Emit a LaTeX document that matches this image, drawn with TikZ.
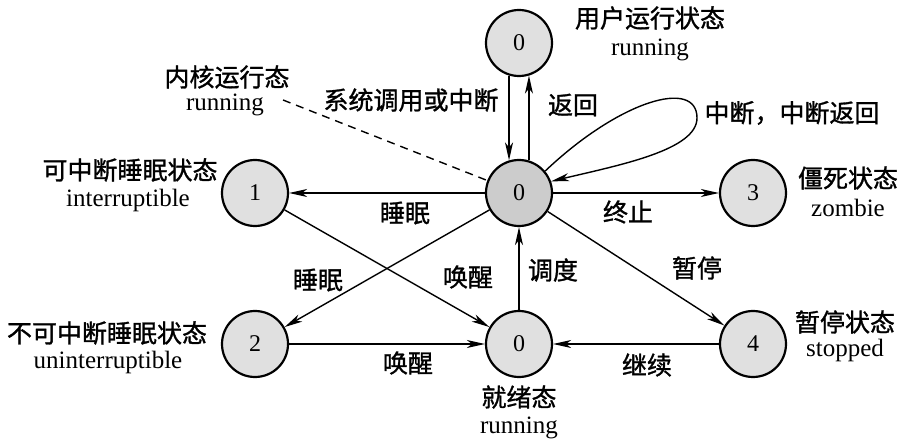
\documentclass[tikz,border=0pt]{standalone}
\usepackage{fontspec}
\setmainfont{Liberation Serif}
\newfontfamily\cjk[FakeBold=1.2]{Noto Sans CJK SC}
\usetikzlibrary{arrows.meta}
\begin{document}
\begin{tikzpicture}[x=0.5pt,y=-0.5pt,
  st/.style={circle,draw,line width=1.1pt,fill=gray!24,minimum size=33pt,inner sep=0pt,font=\fontsize{12}{14}\selectfont},
  stk/.style={st,fill=gray!40},
  cn/.style={font=\cjk\fontsize{12.5}{15}\selectfont,inner sep=0pt},
  en/.style={font=\fontsize{12.5}{15}\selectfont,inner sep=0pt},
  arr/.style={line width=0.7pt,-{Stealth[length=9pt,width=4pt,inset=2.5pt]}},
  ln/.style={line width=0.7pt}]
\useasboundingbox (0,0) rectangle (900,443);
% states
\node[st]  (U)  at (519,43)  {0};
\node[stk] (K)  at (519,193) {0};
\node[st]  (S1) at (255,193) {1};
\node[st]  (Z)  at (753,193) {3};
\node[st]  (S2) at (255,344) {2};
\node[st]  (R)  at (519,344) {0};
\node[st]  (T)  at (753,344) {4};
% state labels
\node[cn] (lU1) at (650,18)  {用户运行状态};
\node[en] (lU2) at (650,50)  {running};
\node[cn] (lK1) at (227,77)  {内核运行态};
\node[en] (lK2) at (225,105) {running};
\node[cn] (lS11) at (130,170) {可中断睡眠状态};
\node[en] (lS12) at (128,200) {interruptible};
\node[cn] (lZ1) at (848,178) {僵死状态};
\node[en] (lZ2) at (848,208) {zombie};
\node[cn] (lS21) at (107,333) {不可中断睡眠状态};
\node[en] (lS22) at (108,362) {uninterruptible};
\node[cn] (lT1) at (845,322) {暂停状态};
\node[en] (lT2) at (845,350) {stopped};
\node[cn] (lR1) at (519,397) {就绪态};
\node[en] (lR2) at (519,428) {running};
% edge labels
\node[cn] (e1) at (411,100) {系统调用或中断};
\node[cn] (e2) at (573,105) {返回};
\node[cn] (e3) at (792,113) {中断，中断返回};
\node[cn] (e4) at (405,213) {睡眠};
\node[cn] (e5) at (628,212) {终止};
\node[cn] (e6) at (318,280) {睡眠};
\node[cn] (e7) at (468,277) {唤醒};
\node[cn] (e8) at (553,270) {调度};
\node[cn] (e9) at (697,268) {暂停};
\node[cn] (e10) at (408,363) {唤醒};
\node[cn] (e11) at (647,365) {继续};
% connectors
\draw[arr] (U.-107) -- (K.107);
\draw[arr] (K.73) -- (U.-73);
\draw[arr] (K) -- (S1);
\draw[arr] (K) -- (Z);
\draw[arr] (S1) -- (R);
\draw[arr] (K) -- (S2);
\draw[arr] (S2) -- (R);
\draw[arr] (R) -- (K);
\draw[arr] (K) -- (T);
\draw[arr] (T) -- (R);
\coordinate (looptip) at (697,118);
\draw[arr] (K.40) .. controls (620,100) and (697,78) .. (looptip)
  .. controls (697,150) and (620,165) .. (K.20);
\coordinate (dstart) at (283,100);
\draw[ln,dash pattern=on 4pt off 3pt] (dstart) -- (K);
\end{tikzpicture}
\end{document}
